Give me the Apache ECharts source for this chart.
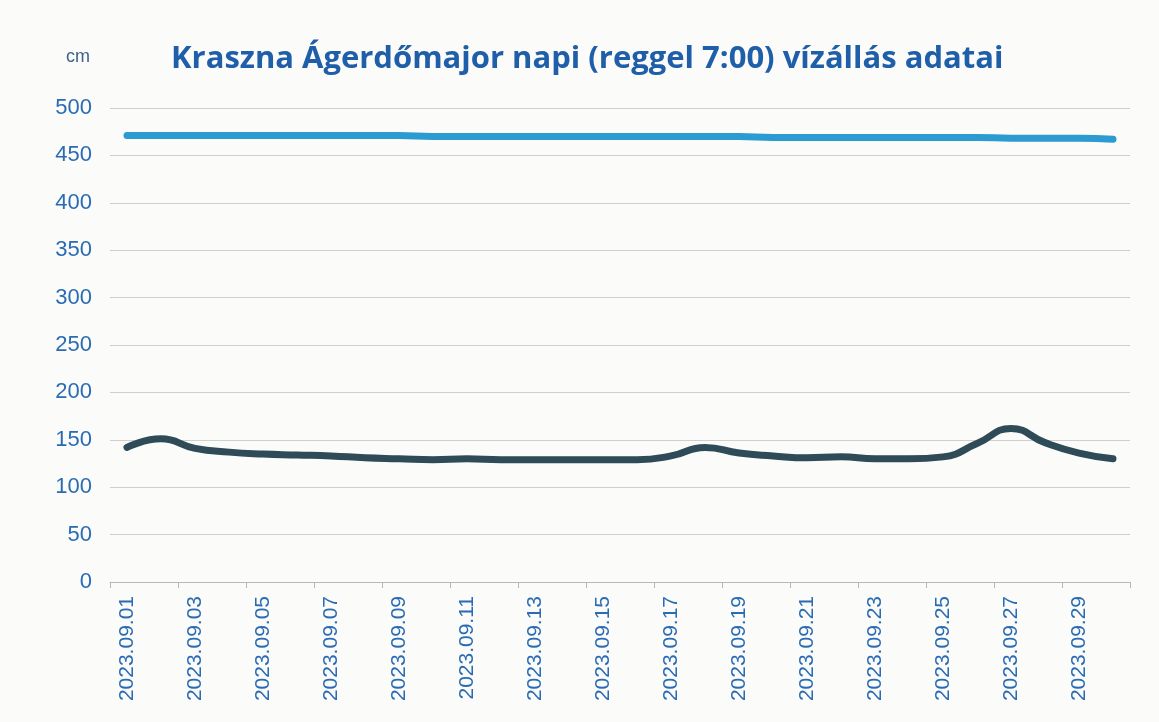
<!DOCTYPE html>
<html><head><meta charset="utf-8">
<script src="https://cdn.jsdelivr.net/npm/echarts@6/dist/echarts.min.js"></script>
<style>html,body{margin:0;padding:0;background:#fbfbfa}#c{width:1159px;height:722px}</style>
</head><body><div id="c"></div>
<script>
const dates = ["2023.09.01","2023.09.02","2023.09.03","2023.09.04","2023.09.05","2023.09.06","2023.09.07","2023.09.08","2023.09.09","2023.09.10","2023.09.11","2023.09.12","2023.09.13","2023.09.14","2023.09.15","2023.09.16","2023.09.17","2023.09.18","2023.09.19","2023.09.20","2023.09.21","2023.09.22","2023.09.23","2023.09.24","2023.09.25","2023.09.26","2023.09.27","2023.09.28","2023.09.29","2023.09.30"];
const level = [142,151,141,137,135,134,133,131,130,129,130,129,129,129,129,129,133,142,136,133,131,132,130,130,132,146,162,147,136,130];
const upper = [471,471,471,471,471,471,471,471,471,470,470,470,470,470,470,470,470,470,470,469,469,469,469,469,469,469,468,468,468,467];
const yTicks = {min:0,max:500,interval:50};
const chart = echarts.init(document.getElementById('c'));
chart.setOption({
  backgroundColor:'#fbfbfa',
  animation:false,
  title:{text:'Kraszna Ágerdőmajor napi (reggel 7:00) vízállás adatai',left:166,top:39,
    textStyle:{fontFamily:'Open Sans',fontWeight:'bold',fontSize:31,color:'#1f5ea8'}},
  grid:{left:110,right:29,top:108,bottom:140},
  xAxis:{type:'category',data:dates,boundaryGap:true,
    axisLine:{lineStyle:{color:'#b8b8b8',width:1}},
    axisTick:{show:true,interval:1,length:6,lineStyle:{color:'#b8b8b8'}},
    axisLabel:{interval:1,rotate:90,fontSize:21,color:'#2a6cb4',fontFamily:'Liberation Sans',margin:14}},
  yAxis:{type:'value',min:yTicks.min,max:yTicks.max,interval:yTicks.interval,
    name:'cm',nameLocation:'end',nameGap:42,nameTextStyle:{color:'#3f6390',fontSize:18,align:'right',padding:[0,20,0,0],fontFamily:'Liberation Sans'},
    axisLine:{show:false},axisTick:{show:false},
    axisLabel:{fontSize:22,color:'#2a6cb4',fontFamily:'Liberation Sans',margin:18},
    splitLine:{lineStyle:{color:'#cfcfcf',width:1}}},
  series:[
    {type:'line',data:upper,smooth:true,symbol:'none',lineStyle:{color:'#2b9bd1',width:7,cap:'round'}},
    {type:'line',data:level,smooth:true,symbol:'none',lineStyle:{color:'#2e4b57',width:7,cap:'round'}}
  ]
});
</script></body></html>
